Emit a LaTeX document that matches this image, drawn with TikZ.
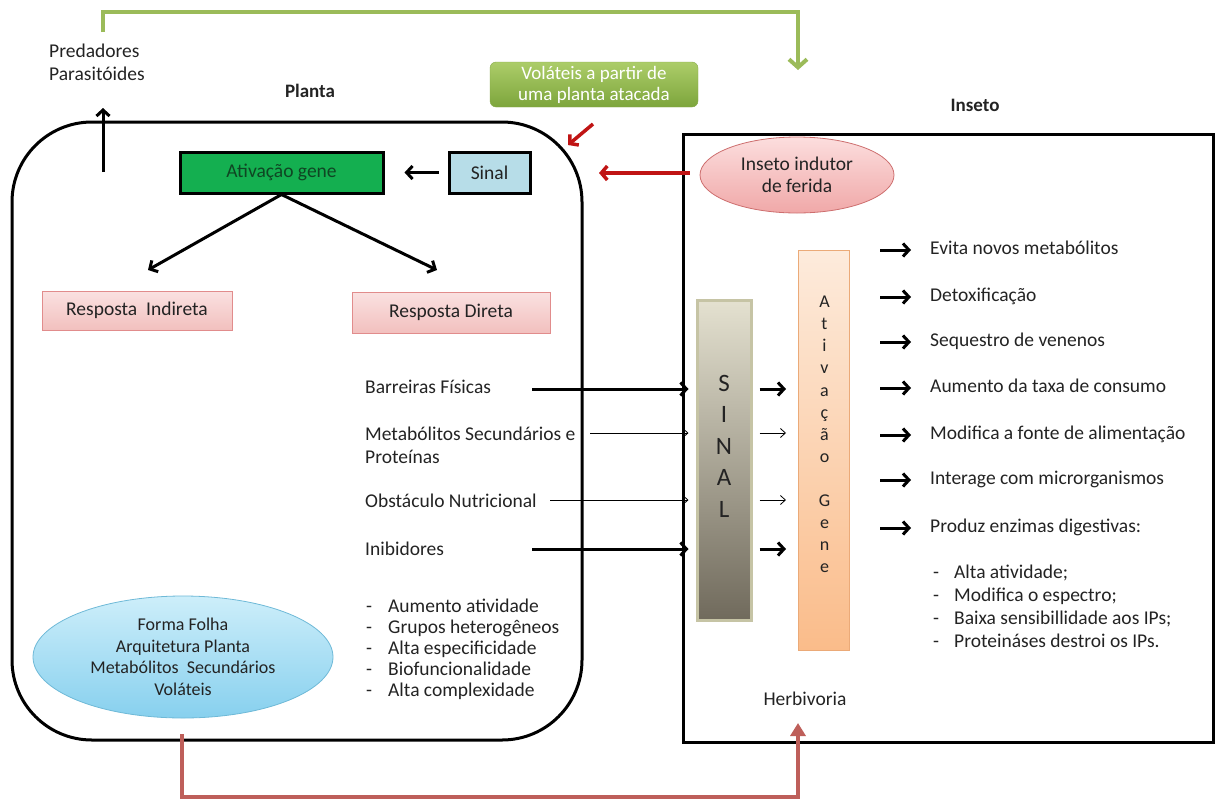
\documentclass[tikz,border=0pt]{standalone}
\usepackage{fontspec}
\setmainfont{Carlito}
\usetikzlibrary{arrows.meta,calc,shapes.geometric}
\definecolor{gline}{RGB}{155,187,89}
\definecolor{dred}{RGB}{192,20,20}
\definecolor{mred}{RGB}{190,95,90}
\definecolor{txt}{RGB}{35,35,35}
\definecolor{agreen}{RGB}{20,175,80}
\definecolor{sblue}{RGB}{183,221,232}
\begin{document}
\begin{tikzpicture}[x=1pt,y=-1pt,
  base/.style={font=\fontsize{19.5}{22}\selectfont, text=txt, inner sep=0pt},
  lbl/.style={base, anchor=west, text height=13pt, text depth=4pt},
  ttl/.style={base, font=\fontsize{19}{22}\selectfont\bfseries},
  bigarrow/.style={line width=3pt, -{Straight Barb[length=6pt,width=13pt]}},
  thinarrow/.style={line width=0.8pt, -{Straight Barb[length=5pt,width=9pt]}},
  redarrow/.style={dred, line width=3.5pt, -{Straight Barb[length=6pt,width=14pt]}},
  resp/.style={base, draw={rgb,255:red,225;green,140;blue,140}, line width=1pt,
    top color={rgb,255:red,250;green,225;blue,225}, bottom color={rgb,255:red,242;green,192;blue,190}},
  blk/.style={base, draw, line width=3pt}
]
\useasboundingbox (0,0) rectangle (1226,801);

% main boxes
\node[draw, line width=3pt, rounded corners=80pt, minimum width=570pt, minimum height=618pt] (planta) at (297,431) {};
\node[draw, line width=3pt, minimum width=530pt, minimum height=608pt] (inseto) at (948,438) {};

% titles
\node[ttl] (tplanta) at (310,91) {Planta};
\node[ttl] (tinseto) at (975,105) {Inseto};

% predators
\node[lbl] (pred) at (49,53) {Predadores};
\node[lbl] (paras) at (49,76) {Parasitóides};
\coordinate (upfoot) at (103,172);
\coordinate (uptip) at (103,108);
\draw[bigarrow] (upfoot) -- (uptip);

% green feedback line
\coordinate (gfoot) at (103,32);
\coordinate (gcorner) at (798,12);
\coordinate (gtip) at (798,70);
\draw[gline, line width=4pt, -{Straight Barb[length=8pt,width=18pt]}] (gfoot) |- (gcorner) -- (gtip);

% volateis
\node[base, rounded corners=6pt, draw={rgb,255:red,135;green,170;blue,75}, top color={rgb,255:red,172;green,205;blue,105}, bottom color={rgb,255:red,125;green,165;blue,60}, minimum width=208pt, minimum height=45pt, text=white, align=center, font=\fontsize{19}{21}\selectfont] (vol) at (594,84.5) {Voláteis a partir de\\uma planta atacada};
\coordinate (vfoot) at (593,124);
\coordinate (vtip) at (568,145);
\draw[redarrow] (vfoot) -- (vtip);

% gene activation in plant
\node[blk, fill=agreen, text={rgb,255:red,15;green,70;blue,35}, minimum width=203pt, minimum height=41pt] (ativ) at (281.5,172.5) {Ativação gene};
\node[blk, fill=sblue, minimum width=81pt, minimum height=41pt] (sinal) at (489.5,172.5) {Sinal};
\draw[bigarrow] ($(sinal.west)+(-9,0)$) -- ($(ativ.east)+(20,0)$);

% insect inductor
\node[base, ellipse, draw={rgb,255:red,205;green,110;blue,110}, line width=0.8pt, top color={rgb,255:red,252;green,222;blue,222}, bottom color={rgb,255:red,240;green,168;blue,168}, minimum width=194pt, minimum height=76pt, align=center] (ind) at (797,175) {Inseto indutor\\de ferida};
\coordinate (rtip) at (599,173);
\draw[redarrow] ($(ind.west)+(-10,-2)$) -- (rtip);

% responses
\coordinate (tipI) at (148,270);
\coordinate (tipD) at (437,270);
\draw[bigarrow] (ativ.south) -- (tipI);
\draw[bigarrow] (ativ.south) -- (tipD);
\node[resp, minimum width=190pt, minimum height=39pt] (rind) at (137,310.5) {Resposta\ \ Indireta};
\node[resp, minimum width=198pt, minimum height=41pt] (rdir) at (451,312.5) {Resposta Direta};

% defence list
\node[lbl] (bar) at (365,389) {Barreiras Físicas};
\node[lbl] (met) at (365,436) {Metabólitos Secundários e};
\node[lbl] (prot) at (365,459) {Proteínas};
\node[lbl] (obs) at (365,503) {Obstáculo Nutricional};
\node[lbl] (inib) at (365,551) {Inibidores};

\node[lbl] (p1) at (366,608) {\makebox[22pt][l]{-}Aumento atividade};
\node[lbl] (p2) at (366,629) {\makebox[22pt][l]{-}Grupos heterogêneos};
\node[lbl] (p3) at (366,650) {\makebox[22pt][l]{-}Alta especificidade};
\node[lbl] (p4) at (366,671) {\makebox[22pt][l]{-}Biofuncionalidade};
\node[lbl] (p5) at (366,692) {\makebox[22pt][l]{-}Alta complexidade};

% blue ellipse
\node[base, ellipse, draw={rgb,255:red,110;green,185;blue,215}, line width=0.8pt, top color={rgb,255:red,205;green,238;blue,250}, bottom color={rgb,255:red,135;green,208;blue,238}, minimum width=300pt, minimum height=122pt, align=center, font=\fontsize{18}{21.5}\selectfont] (blue) at (183,657) {Forma Folha\\Arquitetura Planta\\Metabólitos\ \ Secundários\\Voláteis};

% SINAL and gene activation in insect
\node[base, draw={rgb,255:red,198;green,196;blue,165}, line width=3pt, top color={rgb,255:red,228;green,225;blue,208}, bottom color={rgb,255:red,112;green,106;blue,92}, minimum width=54pt, minimum height=320pt] (sig) at (724,460) {};
\node[base, align=center, font=\fontsize{25}{31.5}\selectfont] (sigtxt) at (724,446) {S\\I\\N\\A\\L};
\node[base, draw={rgb,255:red,235;green,170;blue,120}, line width=1pt, top color={rgb,255:red,253;green,235;blue,220}, bottom color={rgb,255:red,250;green,188;blue,138}, minimum width=51pt, minimum height=400pt] (gene) at (824,450) {};
\node[base, align=center, font=\fontsize{18}{22.1}\selectfont] (genetxt) at (824.5,434.5) {A\\t\\i\\v\\a\\ç\\ã\\o\\[0pt] \\G\\e\\n\\e};

% arrows plant -> SINAL
\draw[bigarrow] ($(bar.west)+(167,0)$) -- ($(sig.west |- bar.west)+(-7,0)$);
\draw[thinarrow] ($(met.west)+(225,-3)$) -- ($(sig.west |- met.west)+(-7,-3)$);
\draw[thinarrow] ($(obs.west)+(185,-3)$) -- ($(sig.west |- obs.west)+(-7,-3)$);
\draw[bigarrow] ($(inib.west)+(167,-2)$) -- ($(sig.west |- inib.west)+(-7,-2)$);

% arrows SINAL -> gene
\draw[bigarrow] ($(sig.east |- bar.west)+(7,0)$) -- ($(gene.west |- bar.west)+(-12,0)$);
\draw[thinarrow] ($(sig.east |- met.west)+(7,-3)$) -- ($(gene.west |- met.west)+(-12,-3)$);
\draw[thinarrow] ($(sig.east |- obs.west)+(7,-3)$) -- ($(gene.west |- obs.west)+(-12,-3)$);
\draw[bigarrow] ($(sig.east |- inib.west)+(7,-2)$) -- ($(gene.west |- inib.west)+(-12,-2)$);

% insect responses
\node[lbl] (r1) at (930,250) {Evita novos metabólitos};
\node[lbl] (r2) at (930,297) {Detoxificação};
\node[lbl] (r3) at (930,342) {Sequestro de venenos};
\node[lbl] (r4) at (930,388) {Aumento da taxa de consumo};
\node[lbl] (r5) at (930,435) {Modifica a fonte de alimentação};
\node[lbl] (r6) at (930,480) {Interage com microrganismos};
\node[lbl] (r7) at (930,528) {Produz enzimas digestivas:};
\foreach \r in {r1,r2,r3,r4,r5,r6,r7}{
  \draw[bigarrow] ($(\r.west)+(-50,0)$) -- ($(\r.west)+(-19,0)$);
}
\node[lbl] (e1) at (933,574) {\makebox[21pt][l]{-}Alta atividade;};
\node[lbl] (e2) at (933,597) {\makebox[21pt][l]{-}Modifica o espectro;};
\node[lbl] (e3) at (933,620) {\makebox[21pt][l]{-}Baixa sensibillidade aos IPs;};
\node[lbl] (e4) at (933,643) {\makebox[21pt][l]{-}Proteináses destroi os IPs.};

\node[base] (herb) at (805,699) {Herbivoria};

% red bottom connector
\coordinate (rb) at (798,797);
\coordinate (herbtip) at (798,723);
\draw[mred, line width=3.5pt, -{Triangle[length=13pt,width=15pt]}] ($(blue.south)+(-1,16)$) |- (rb) -- (herbtip);
\end{tikzpicture}
\end{document}
